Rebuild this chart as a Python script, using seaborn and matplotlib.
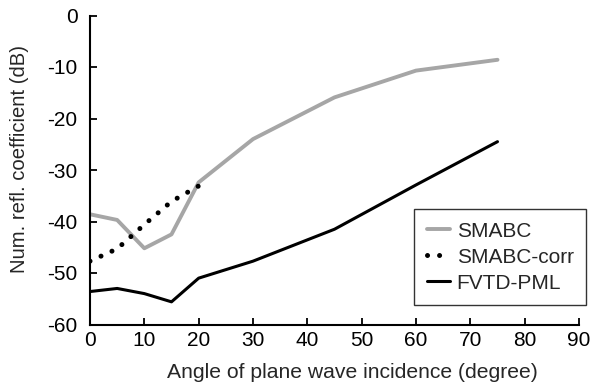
import numpy as np
import pandas as pd
import matplotlib
matplotlib.use("Agg")
import matplotlib.pyplot as plt
import seaborn as sns

# Data
angles_smabc = [0, 5, 10, 15, 20, 30, 45, 60, 75]
smabc = [-38.6, -39.7, -45.2, -42.5, -32.4, -24.0, -15.9, -10.7, -8.6]

angles_corr = [0, 5, 10, 15, 20]
smabc_corr = [-47.7, -45.3, -40.6, -36.1, -33.1]

angles_pml = [0, 5, 10, 15, 20, 30, 45, 60, 75]
fvtd_pml = [-53.6, -53.0, -54.0, -55.6, -51.0, -47.7, -41.5, -32.9, -24.5]

xticks = [0, 10, 20, 30, 40, 50, 60, 70, 80, 90]
yticks = [0, -10, -20, -30, -40, -50, -60]

sns.set_style("ticks")
plt.rcParams['font.family'] = ['Liberation Sans', 'DejaVu Sans']

fig = plt.figure(figsize=(5.94, 3.87), dpi=100)
ax = fig.add_axes([90/594, 1 - 324.5/387, 489/594, 309/387])

sns.lineplot(x=angles_smabc, y=smabc, ax=ax, color='#a6a6a6', linewidth=2.8,
             label='SMABC', solid_capstyle='round', solid_joinstyle='round')
sns.lineplot(x=angles_corr, y=smabc_corr, ax=ax, color='black', linewidth=3.6,
             label='SMABC-corr', dashes=(0.01, 2.4), dash_capstyle='round')
sns.lineplot(x=angles_pml, y=fvtd_pml, ax=ax, color='black', linewidth=2.2,
             label='FVTD-PML', solid_capstyle='round', solid_joinstyle='round')

ax.set_xlim(0, 90)
ax.set_ylim(-60, 0)
ax.set_xticks(xticks)
ax.set_yticks(yticks)
ax.set_xticklabels([str(t) for t in xticks])
ax.set_yticklabels([str(t) for t in yticks])
ax.tick_params(direction='in', length=5, width=1.3, labelsize=15, pad=5, colors='black')
ax.tick_params(axis='y', pad=9)

for s in ['top', 'right']:
    ax.spines[s].set_visible(False)
for s in ['left', 'bottom']:
    ax.spines[s].set_linewidth(1.5)
    ax.spines[s].set_color('black')

ax.set_xlabel('Angle of plane wave incidence (degree)', fontsize=15.2)
ax.set_ylabel('Num. refl. coefficient (dB)', fontsize=14.6)
ax.xaxis.set_label_coords((352.5 - 90) / 489, (324.5 - 373) / 309)
ax.yaxis.set_label_coords((20 - 90) / 489, (324.5 - 159) / 309)
ax.xaxis.label.set_va('center')
ax.yaxis.label.set_va('center')

leg = ax.legend(loc='lower left', bbox_to_anchor=(0.6626, 0.063), fontsize=15,
                frameon=True, fancybox=False, framealpha=1, edgecolor='#333333',
                handlelength=1.15, handletextpad=0.3, labelspacing=0.33,
                borderpad=0.6, borderaxespad=0)
leg.get_frame().set_linewidth(1.0)

fig.savefig('out.png', dpi=100)
